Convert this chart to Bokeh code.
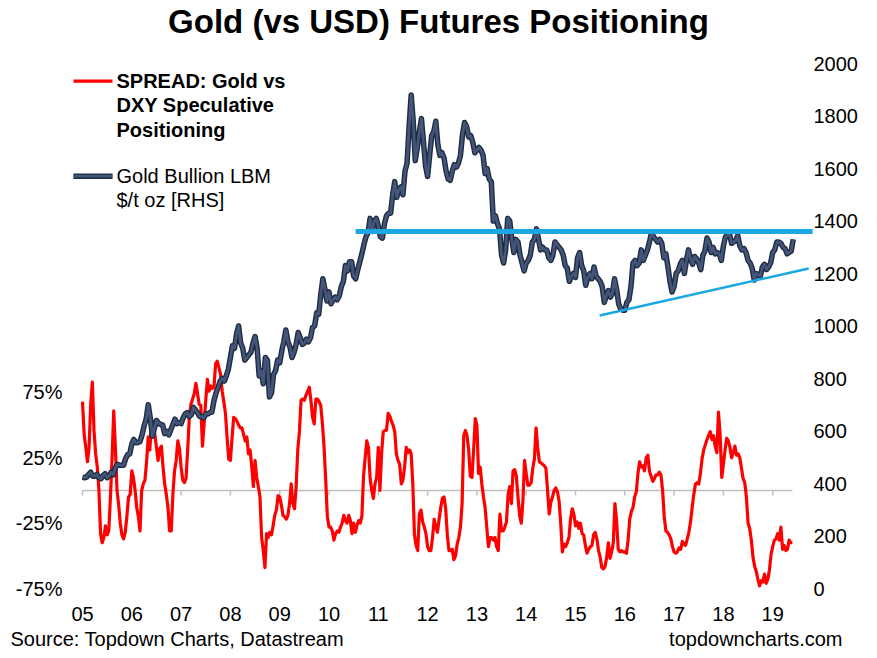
import numpy as np
from bokeh.plotting import figure
from bokeh.models import Range1d
from bokeh.core.properties import value
from bokeh.embed import file_html
from bokeh.resources import INLINE

FONT = "Liberation Sans"

# ---------------- data ----------------
# Gold Bullion LBM $/t oz, twice a month from Jan 2005
gold_2005 = [424, 422, 424, 435, 443, 428, 428, 435, 422, 418, 430, 437, 422, 429, 443, 433, 460, 473, 470, 470, 470, 495, 510, 513]
gold_2006 = [550, 568, 555, 556, 560, 585, 620, 645, 700, 650, 580, 610, 640, 630, 625, 623, 590, 598, 585, 605, 625, 645, 628, 632]
gold_2007 = [628, 650, 665, 670, 655, 662, 690, 680, 670, 655, 655, 650, 665, 665, 670, 672, 715, 745, 765, 790, 800, 790, 810, 835]
gold_2008 = [880, 925, 915, 970, 1000, 935, 915, 870, 880, 890, 900, 935, 960, 915, 810, 830, 780, 880, 870, 730, 745, 815, 830, 870]
gold_2009 = [860, 905, 940, 985, 940, 920, 880, 900, 930, 975, 955, 930, 935, 950, 940, 955, 995, 1000, 1050, 1045, 1120, 1180, 1140, 1095]
gold_2010 = [1130, 1085, 1100, 1110, 1100, 1115, 1150, 1170, 1230, 1210, 1245, 1245, 1190, 1180, 1215, 1245, 1275, 1310, 1340, 1355, 1410, 1360, 1400, 1410]
gold_2011 = [1380, 1340, 1335, 1390, 1420, 1430, 1430, 1500, 1550, 1490, 1520, 1530, 1500, 1590, 1620, 1760, 1880, 1780, 1630, 1680, 1740, 1790, 1700, 1610]
gold_2012 = [1570, 1650, 1725, 1740, 1780, 1690, 1650, 1660, 1640, 1590, 1560, 1555, 1590, 1615, 1605, 1620, 1650, 1730, 1775, 1760, 1720, 1725, 1700, 1660]
gold_2013 = [1670, 1680, 1670, 1650, 1580, 1600, 1560, 1550, 1400, 1420, 1390, 1370, 1270, 1240, 1290, 1410, 1400, 1330, 1280, 1330, 1320, 1270, 1240, 1210]
gold_2014 = [1240, 1250, 1270, 1320, 1330, 1370, 1330, 1290, 1300, 1290, 1290, 1260, 1250, 1270, 1320, 1310, 1300, 1290, 1270, 1230, 1220, 1170, 1190, 1200]
gold_2015 = [1185, 1260, 1280, 1230, 1210, 1155, 1185, 1200, 1180, 1225, 1190, 1180, 1170, 1150, 1090, 1115, 1135, 1110, 1125, 1180, 1140, 1085, 1065, 1060]
gold_2016 = [1060, 1090, 1100, 1150, 1240, 1250, 1230, 1240, 1290, 1250, 1270, 1290, 1320, 1355, 1340, 1330, 1320, 1330, 1315, 1260, 1275, 1225, 1170, 1130]
gold_2017 = [1150, 1200, 1210, 1235, 1250, 1200, 1250, 1290, 1255, 1235, 1265, 1255, 1240, 1215, 1270, 1285, 1335, 1320, 1280, 1300, 1275, 1280, 1275, 1250]
gold_2018 = [1305, 1340, 1345, 1350, 1315, 1320, 1325, 1345, 1305, 1290, 1295, 1280, 1250, 1240, 1220, 1175, 1200, 1195, 1190, 1225, 1235, 1215, 1225, 1240]
gold_2019 = [1280, 1290, 1320, 1320, 1315, 1300, 1295, 1275, 1280, 1285, 1330]

# SPREAD: Gold vs DXY speculative positioning (%), 30 readings a year from Jan 2005
spread_2005 = [68, 43, 33, 22, 33, 66, 83, 46, 28, 18, 0, -33, -40, -36, -27, -34, -31, -5, 25, 61,
               33, 0, -11, -25, -34, -37, -32, -20, -5, -3]
spread_2006 = [15, 10, 0, -13, -20, -31, 0, 5, 8, 22, 41, 31, 54, 50, 43, 33, 23, 32, 34, 18,
               5, -3, -13, -31, -31, -3, 15, 23, 38, 32]
spread_2007 = [18, 8, 6, 9, 31, 56, 66, 70, 74, 82, 74, 66, 65, 34, 51, 69, 85, 76, 80, 78,
               79, 97, 99, 94, 89, 76, 68, 59, 40, 24]
spread_2008 = [23, 40, 56, 55, 53, 50, 48, 48, 43, 38, 41, 28, 31, 18, 3, 23, 10, 3, -5, -36,
               -46, -59, -33, -36, -32, -34, -27, -19, -15, -4]
spread_2009 = [-5, -11, -19, -20, -22, -19, -10, 5, -10, -14, 3, 31, 45, 69, 70, 69, 73, 76, 79, 69,
               56, 51, 70, 70, 68, 65, 51, 33, 8, -20]
spread_2010 = [-28, -28, -31, -38, -33, -31, -32, -28, -25, -19, -23, -25, -19, -23, -33, -25, -32, -27, -23, -25,
               -20, 11, 25, 38, 33, 10, 0, -6, 5, 10]
spread_2011 = [33, 0, 28, 45, 46, 46, 59, 57, 53, 50, 45, 28, 23, 20, 5, 8, 18, 33, 29, 31,
               28, 5, -34, -42, -46, -18, -15, -24, -28, -33]
spread_2012 = [-43, -46, -46, -36, -22, -28, -32, -22, -13, -6, -5, -14, -34, -46, -46, -45, -53, -50, -41, -36,
               -28, -10, 42, 46, 42, 31, 11, 10, 31, 55]
spread_2013 = [50, 13, 18, 5, -5, -13, -28, -43, -36, -36, -38, -36, -43, -46, -18, -31, -31, -28, -24, -3,
               3, -10, 15, 16, 11, -5, -19, -25, -8, 23]
spread_2014 = [13, 4, 4, 6, 17, 24, 48, 33, 22, 21, 20, 19, 17, 0, -18, -9, -5, 0, 2, -1,
               -8, -25, -47, -41, -43, -40, -36, -22, -14, -18]
spread_2015 = [-27, -24, -29, -25, -33, -34, -42, -48, -45, -43, -42, -34, -32, -37, -46, -51, -59, -60, -58, -51,
               -40, -52, -47, -40, -10, -23, -45, -47, -46, -47]
spread_2016 = [-47, -48, -38, -22, -16, -13, -5, -1, 13, 22, 18, 19, 15, 25, 27, 15, 11, 7, 9, 12,
               12, 14, 12, 0, -20, -31, -32, -34, -37, -43]
spread_2017 = [-47, -48, -47, -44, -45, -39, -41, -42, -37, -32, -24, -13, -3, 5, 6, 5, 13, 24, 31, 35,
               39, 42, 45, 39, 42, 34, 29, 60, 43, 10]
spread_2018 = [20, 31, 40, 38, 33, 25, 29, 34, 27, 28, 25, 17, 9, 6, -5, -25, -29, -38, -51, -58,
               -62, -68, -73, -69, -70, -64, -71, -68, -61, -49]
spread_2019 = [-43, -38, -37, -33, -38, -28, -45, -42, -46, -45, -38, -40, -40]

year_ticks = list(range(2005, 2020))
year_labels = ["%02d" % (y % 100) for y in year_ticks]
gold_ticks = list(range(0, 2001, 200))
gold_labels = [str(t) for t in gold_ticks]
spread_ticks = [-75, -25, 25, 75]
spread_labels = ["%d%%" % t for t in spread_ticks]

resistance_level = [1360, 1360]
resistance_years = [2010.54, 2019.81]
support_years = [2015.49, 2019.73]
support_level = [1040, 1219]

gold = (gold_2005 + gold_2006 + gold_2007 + gold_2008 + gold_2009 + gold_2010 + gold_2011 + gold_2012 +
        gold_2013 + gold_2014 + gold_2015 + gold_2016 + gold_2017 + gold_2018 + gold_2019)
spread = (spread_2005 + spread_2006 + spread_2007 + spread_2008 + spread_2009 + spread_2010 + spread_2011 +
          spread_2012 + spread_2013 + spread_2014 + spread_2015 + spread_2016 + spread_2017 + spread_2018 +
          spread_2019)
gold_t = 2005 + np.arange(len(gold)) / 24.0
spread_t = 2005 + np.arange(len(spread)) / 30.0

# ---------------- layout (pixel geometry of the picture) ----------------
W, H = 870, 654
X_2005 = 82          # px of Jan 2005
PX_PER_YEAR = 49.3
Y_ZERO = 588         # px of gold 0 / spread -75%
GOLD_PX = 0.2625     # px per $
SPREAD_PX = 1.3067   # px per %


def px_x(px):
    return 2005 + (px - X_2005) / PX_PER_YEAR


def px_y(py):
    return (Y_ZERO - py) / GOLD_PX


def px_s(py):
    return -75 + (Y_ZERO - py) / SPREAD_PX


p = figure(width=W, height=H, output_backend="svg", toolbar_location=None,
           x_range=Range1d(px_x(0), px_x(W)), y_range=Range1d(px_y(H), px_y(0)),
           x_axis_location=None, y_axis_location=None,
           min_border=0, min_border_left=0, min_border_right=0, min_border_top=0, min_border_bottom=0)
p.extra_y_ranges = {"spread": Range1d(px_s(H), px_s(0))}
p.outline_line_color = None
p.xgrid.visible = False
p.ygrid.visible = False
p.background_fill_color = "white"
p.border_fill_color = "white"

RED = "#ff0000"
NAVY_EDGE = "#1f2b40"
NAVY = "#44557a"
CYAN = "#1ba7e2"
GREY = "#bfbfbf"

# zero line of the spread axis with year ticks
p.line([spread_t[0], spread_t[-1]], [0, 0], y_range_name="spread", line_color=GREY, line_width=1.5)
p.segment(x0=year_ticks, y0=[0] * len(year_ticks), x1=year_ticks,
          y1=[-5 / SPREAD_PX] * len(year_ticks),
          y_range_name="spread", line_color=GREY, line_width=1.5)

# series
p.line(spread_t, spread, y_range_name="spread", line_color=RED, line_width=3.2, line_join="round")
p.line(gold_t, gold, line_color=NAVY_EDGE, line_width=5.5, line_join="round")
p.line(gold_t, gold, line_color=NAVY, line_width=2.8, line_join="round")

# annotation lines
p.line(resistance_years, resistance_level, line_color=CYAN, line_width=5)
p.line(support_years, support_level, line_color=CYAN, line_width=2.5)

# axis tick labels
p.text(x=year_ticks, y=[px_y(613.5)] * len(year_ticks), text=year_labels,
       text_font=value(FONT), text_font_size="20px", text_align="center",
       text_baseline="middle", text_color="#000000")
p.text(x=[px_x(813)] * len(gold_ticks), y=gold_ticks, text=gold_labels,
       text_font=value(FONT), text_font_size="20px", text_align="left",
       text_baseline="middle", text_color="#000000")
p.text(x=[px_x(62)] * len(spread_ticks), y=spread_ticks, text=spread_labels,
       y_range_name="spread",
       text_font=value(FONT), text_font_size="20px", text_align="right",
       text_baseline="middle", text_color="#000000")

# legend
p.line([px_x(73), px_x(112)], [px_y(80.7)] * 2, line_color=RED, line_width=3.2)
p.line([px_x(73), px_x(112)], [px_y(175.7)] * 2, line_color=NAVY_EDGE, line_width=5.5)
p.line([px_x(73), px_x(112)], [px_y(175.7)] * 2, line_color=NAVY, line_width=2.8)


def add_text(txt, px, py, size="20px", style="normal", align="left"):
    # py is the vertical middle of the capitals, in picture pixels
    p.text(x=[px_x(px)], y=[px_y(py)], text=[txt], text_font=value(FONT), text_font_size=size,
           text_font_style=style, text_align=align, text_baseline="middle",
           text_color="#000000")


add_text("SPREAD: Gold vs", 116, 80, style="bold")
add_text("DXY Speculative", 116, 104.5, style="bold")
add_text("Positioning", 116, 129, style="bold")
add_text("Gold Bullion LBM", 116, 175)
add_text("$/t oz [RHS]", 116, 199.5)

add_text("Gold (vs USD) Futures Positioning", 438, 20.5, size="33px", style="bold", align="center")
add_text("Source: Topdown Charts, Datastream", 10, 638)
add_text("topdowncharts.com", 842, 638, align="right")

open("out.html", "w").write(file_html(p, INLINE))
